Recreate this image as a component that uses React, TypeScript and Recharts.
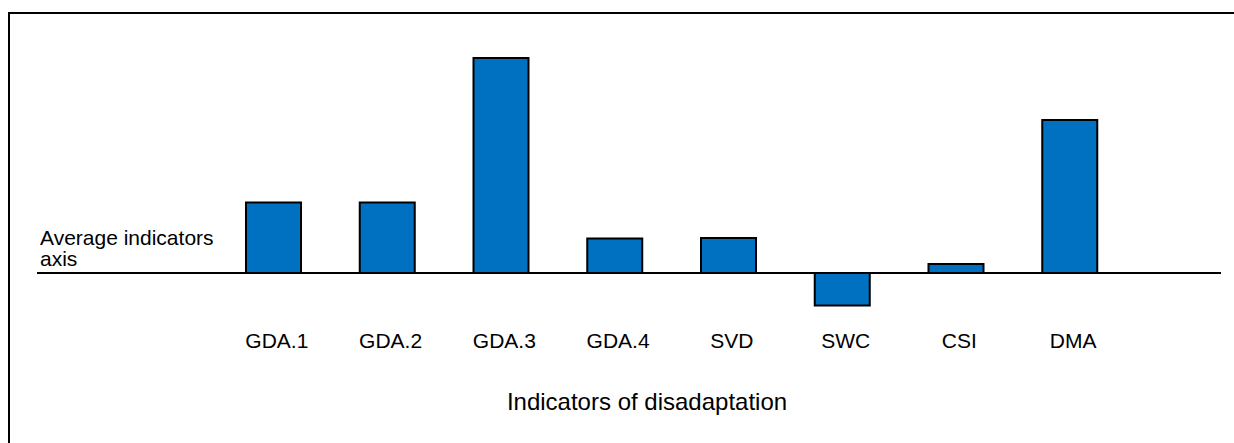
import * as React from 'react';
import { Bar, BarChart, ReferenceLine, XAxis, YAxis } from 'recharts';

const indicators = ['GDA.1', 'GDA.2', 'GDA.3', 'GDA.4', 'SVD', 'SWC', 'CSI', 'DMA'];
const deviations = [7.05, 7.05, 21.5, 3.45, 3.5, -3.25, 0.9, 15.3];

const data = indicators.map((name, i) => ({ name, value: deviations[i] }));

const font = '"Liberation Sans", Arial, sans-serif';

const AxisNote = () => (
  <text x={40} y={245} fontFamily={font} fontSize={21} fill="#000">
    <tspan x={40} y={245}>Average indicators</tspan>
    <tspan x={40} y={266}>axis</tspan>
  </text>
);

const AxisTitle = () => (
  <text x={647} y={410} textAnchor="middle" fontFamily={font} fontSize={24} fill="#000">
    Indicators of disadaptation
  </text>
);

export default function App() {
  return (
    <div style={{ position: 'fixed', left: 0, top: 0, width: 1234, height: 443, overflow: 'hidden', background: '#fff' }}>
      <div
        style={{
          position: 'absolute',
          left: 8,
          top: 12,
          width: 1240,
          height: 450,
          border: '2px solid #000',
          boxSizing: 'border-box'
        }}
      />
      <div style={{ position: 'absolute', left: 0, top: 0 }}>
        <BarChart width={1234} height={443} data={data} margin={{ top: 43, right: 13, bottom: 0, left: 37 }}>
          <XAxis
            dataKey="name"
            axisLine={false}
            tickLine={false}
            tickMargin={4}
            height={120}
            padding={{ left: 180, right: 94 }}
            tick={{ fill: '#000', fontSize: 21, fontFamily: font, dx: 3 }}
            interval={0}
            label={<AxisTitle />}
          />
          <YAxis hide domain={[-5, 23]} allowDataOverflow />
          <Bar dataKey="value" fill="#0070C0" stroke="#000" strokeWidth={2} barSize={55} isAnimationActive={false} />
          <ReferenceLine y={0} stroke="#000" strokeWidth={2} ifOverflow="extendDomain" label={<AxisNote />} />
        </BarChart>
      </div>
    </div>
  );
}
